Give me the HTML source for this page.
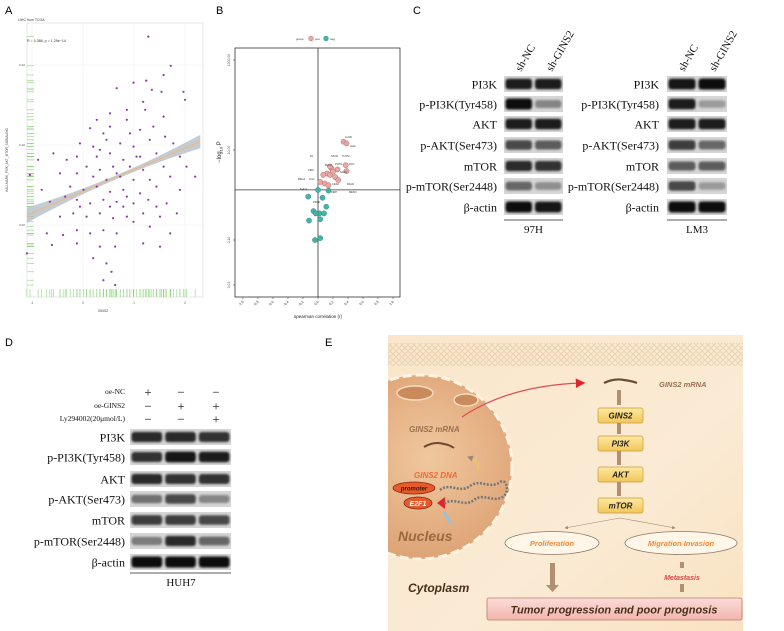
<!DOCTYPE html>
<html><head><meta charset="utf-8">
<style>
html,body{margin:0;padding:0;background:#fff;}
svg{display:block;font-family:"Liberation Sans",sans-serif;}
.serif{font-family:"Liberation Serif",serif;}
</style></head>
<body>
<svg id="fig" width="784" height="631" viewBox="0 0 784 631" xmlns="http://www.w3.org/2000/svg">
<defs>
<filter id="blur" x="-30%" y="-80%" width="160%" height="260%"><feGaussianBlur stdDeviation="1.1"/></filter>
<linearGradient id="bgE" x1="0" y1="0" x2="1" y2="1"><stop offset="0" stop-color="#f9e6cb"/><stop offset="0.6" stop-color="#fbebd4"/><stop offset="1" stop-color="#f8e2c2"/></linearGradient>
<radialGradient id="nuc" cx="0.55" cy="0.45" r="0.6"><stop offset="0" stop-color="#f0c89e"/><stop offset="1" stop-color="#dca072"/></radialGradient>
<linearGradient id="boxG" x1="0" y1="0" x2="0" y2="1"><stop offset="0" stop-color="#fde9a0"/><stop offset="1" stop-color="#f2c55a"/></linearGradient>
<linearGradient id="finG" x1="0" y1="0" x2="0" y2="1"><stop offset="0" stop-color="#fbdcd8"/><stop offset="1" stop-color="#f2b5ae"/></linearGradient>
<pattern id="mem" width="6" height="6" patternUnits="userSpaceOnUse"><circle cx="3" cy="3" r="2.3" fill="none" stroke="#e2c9a4" stroke-width="0.8"/></pattern>
<marker id="arrR" markerWidth="8" markerHeight="8" refX="6" refY="4" orient="auto"><path d="M0,0 L8,4 L0,8 z" fill="#e0252b"/></marker>
<marker id="arrG" markerWidth="6" markerHeight="6" refX="5" refY="3" orient="auto"><path d="M0,0 L6,3 L0,6 z" fill="#9a8878"/></marker>
</defs>

<text x="5" y="14" font-size="11">A</text>
<text x="216" y="14" font-size="11">B</text>
<text x="413" y="14" font-size="11">C</text>
<text x="5" y="346" font-size="11">D</text>
<text x="325" y="346" font-size="11">E</text>

<g id="panelA">
<text x="18" y="21" font-size="3.5" fill="#333">LIHC from TCGA</text>
<rect x="27" y="23" width="176" height="274" fill="#fff" stroke="#d8d8d8" stroke-width="0.6"/>
<text x="27" y="42" font-size="3.6" fill="#333">R = 0.388, p = 1.29e−14</text>
<text x="103" y="312" font-size="3.5" text-anchor="middle" fill="#444">GINS2</text>
<text transform="translate(8,160) rotate(-90)" font-size="3.2" text-anchor="middle" fill="#444">HALLMARK_PI3K_AKT_MTOR_SIGNALING</text>
</g>

<g id="panelB">
<rect x="235" y="48" width="165" height="249" fill="#fff" stroke="#333" stroke-width="0.8"/>
<text x="318" y="318" font-size="4.5" text-anchor="middle" fill="#222">spearman correlation (r)</text>
<text transform="translate(221,152) rotate(-90)" font-size="6" text-anchor="middle" fill="#222">−log<tspan font-size="4" dy="1.5">10</tspan><tspan dy="-1.5"> P</tspan></text>
<text x="296" y="40" font-size="3" fill="#333">group</text>
<circle cx="311" cy="38.5" r="2.4" fill="#e8a9a4" stroke="#a55" stroke-width="0.4"/>
<text x="315" y="40" font-size="3" fill="#333">pos</text>
<circle cx="326" cy="38.5" r="2.4" fill="#44b3a8" stroke="#277" stroke-width="0.4"/>
<text x="330" y="40" font-size="3" fill="#333">neg</text>
</g>

<g id="blots" class="serif"></g>

<g id="panelE">
<rect x="388" y="335" width="355" height="296" fill="url(#bgE)"/>
<rect x="388" y="343" width="355" height="23" fill="url(#mem)"/>
<clipPath id="clipE"><rect x="388" y="335" width="355" height="296"/></clipPath>
<g clip-path="url(#clipE)">
<circle cx="420" cy="467" r="92" fill="url(#nuc)" stroke="#fff3e2" stroke-width="3" stroke-dasharray="9,4"/>
<ellipse cx="415" cy="393" rx="18" ry="7" fill="#c98a5c" stroke="#f6dcc0" stroke-width="1.5"/>
<ellipse cx="466" cy="400" rx="12" ry="6" fill="#c98a5c" stroke="#f6dcc0" stroke-width="1.5"/>
</g>
<text x="409" y="432" font-size="8" font-style="italic" font-weight="bold" fill="#9c7050">GINS2 mRNA</text>
<path d="M424,447 q10,-6 20,-3 q6,1 10,4" fill="none" stroke="#6b4a30" stroke-width="2"/>
<path d="M478,471 q2,-10 -10,-14" fill="none" stroke="#e8d050" stroke-width="1" marker-end="url(#arrG)"/>
<text x="414" y="478" font-size="8" font-style="italic" font-weight="bold" fill="#f06a3a">GINS2 DNA</text>
<ellipse cx="414" cy="488" rx="21" ry="6" fill="#e85a2c" stroke="#7a2a10" stroke-width="0.8"/>
<text x="414" y="490.5" font-size="6" font-style="italic" font-weight="bold" text-anchor="middle" fill="#3a1a0a">promoter</text>
<ellipse cx="418" cy="503" rx="14" ry="6" fill="#e85a2c" stroke="#7a2a10" stroke-width="0.8"/>
<text x="418" y="506" font-size="7" font-style="italic" font-weight="bold" text-anchor="middle" fill="#fff">E2F1</text>
<path d="M445,497 L445,509 L437,503 z" fill="#e0252b"/>
<path d="M440,490 c10,-8 20,4 30,-4 c10,-8 20,4 30,-4 c6,-4 10,8 4,14 c-10,8 -20,-4 -30,4 c-10,8 -20,-4 -30,4" fill="none" stroke="#777" stroke-width="2.5" stroke-dasharray="2,1.5"/>
<line x1="444" y1="512" x2="451" y2="524" stroke="#9cc0d8" stroke-width="3"/>
<text x="398" y="541" font-size="14" font-style="italic" font-weight="bold" fill="#9c6a40">Nucleus</text>
<path d="M462,417 Q510,385 583,383" fill="none" stroke="#e04a55" stroke-width="1.2" marker-end="url(#arrR)"/>
<path d="M604,383 q10,-5 20,-3 q8,1 13,3" fill="none" stroke="#6b4a30" stroke-width="2.2"/>
<text x="659" y="387" font-size="7.5" font-style="italic" font-weight="bold" fill="#9c7050">GINS2 mRNA</text>
<g id="flow"></g>
<line x1="620" y1="518" x2="565" y2="528" stroke="#9a8878" stroke-width="0.6" marker-end="url(#arrG)"/>
<line x1="620" y1="518" x2="675" y2="528" stroke="#9a8878" stroke-width="0.6" marker-end="url(#arrG)"/>
<ellipse cx="552" cy="543" rx="47" ry="11.5" fill="#fff6e8" stroke="#8a7866" stroke-width="0.8"/>
<text x="552" y="546" font-size="7.5" font-style="italic" font-weight="bold" text-anchor="middle" fill="#f08a3a">Proliferation</text>
<ellipse cx="681" cy="543" rx="56" ry="11.5" fill="#fff6e8" stroke="#8a7866" stroke-width="0.8"/>
<text x="681" y="546" font-size="7.5" font-style="italic" font-weight="bold" text-anchor="middle" fill="#f08a3a">Migration Invasion</text>
<rect x="550" y="563" width="5" height="22" fill="#b09070"/>
<path d="M546,585 L559,585 L552.5,592 z" fill="#b09070"/>
<rect x="680" y="562" width="4" height="6" fill="#b09070"/>
<text x="682" y="580" font-size="7" font-style="italic" font-weight="bold" text-anchor="middle" fill="#e0454a">Metastasis</text>
<rect x="680" y="584" width="4" height="8" fill="#b09070"/>
<text x="408" y="592" font-size="12" font-style="italic" font-weight="bold" fill="#4a2e18">Cytoplasm</text>
<rect x="487" y="598" width="255" height="22" rx="2" fill="url(#finG)" stroke="#c07a70" stroke-width="0.8"/>
<text x="614" y="613.5" font-size="11" font-style="italic" font-weight="bold" text-anchor="middle" fill="#4a2e18">Tumor progression and poor prognosis</text>
</g>
</svg>
<script>
const NS='http://www.w3.org/2000/svg';
function mk(tag,attrs,parent){const e=document.createElementNS(NS,tag);for(const k in attrs)e.setAttribute(k,attrs[k]);parent.appendChild(e);return e;}

/* ---------- Panel A data ---------- */
const gins2=[1.28,1.72,1.24,0.99,1.58,0.66,1.35,1.54,1.97,1.18,0.27,0.53,0.86,1.22,1.58,2.00,0.14,0.40,0.86,1.12,1.38,1.61,-0.06,0.20,0.46,0.73,0.99,1.31,1.77,-0.58,-0.12,0.27,0.53,0.79,1.12,1.44,1.90,-0.88,-0.32,0.07,0.33,0.59,0.92,1.18,1.58,2.03,-1.04,-0.45,-0.12,0.20,0.46,0.73,0.99,1.31,1.71,2.20,-0.81,-0.25,0.01,0.27,0.53,0.79,1.12,1.44,1.90,-0.65,-0.35,-0.12,0.14,0.40,0.66,0.99,1.28,1.64,-0.45,-0.19,0.07,0.33,0.59,0.86,1.18,1.51,1.84,-0.71,-0.39,-0.12,0.14,0.40,0.66,0.99,1.31,1.71,-0.61,-0.12,0.33,0.63,1.18,1.51,-1.10,0.20,0.46,0.56,0.40,0.63,0.53,0.79,1.44,-0.06,0.86,0.66,1.05,0.92,0.53,0.33];
const pathway=[0.471,0.398,0.361,0.356,0.375,0.342,0.338,0.333,0.333,0.308,0.263,0.279,0.288,0.288,0.271,0.313,0.242,0.229,0.263,0.238,0.246,0.221,0.204,0.196,0.213,0.204,0.196,0.213,0.204,0.179,0.171,0.171,0.179,0.163,0.171,0.179,0.171,0.163,0.163,0.146,0.138,0.146,0.146,0.138,0.146,0.146,0.125,0.129,0.129,0.121,0.113,0.121,0.113,0.113,0.121,0.121,0.088,0.096,0.088,0.096,0.083,0.088,0.079,0.096,0.088,0.058,0.071,0.063,0.054,0.063,0.058,0.054,0.063,0.054,0.021,0.029,0.021,0.029,0.017,0.021,0.029,0.021,0.029,-0.021,-0.025,-0.013,-0.021,-0.013,-0.021,0.008,-0.004,-0.021,-0.050,-0.046,-0.054,-0.054,-0.046,-0.054,-0.071,-0.083,-0.096,-0.117,-0.138,-0.150,0.046,0.046,0.046,0.046,0.071,0.129,0.171,0.229,0.246,0.188];
const aXTicks=[-1,0,1,2];
const aYTicks=[0.0,0.2,0.4];
const aYTickLabels=['0.00','0.20','0.40'];
const ax=g=>83+51*g, ay=v=>225-400*v;

const A=document.getElementById('panelA');
aXTicks.forEach(t=>{const l=mk('line',{x1:ax(t),x2:ax(t),y1:23,y2:297,stroke:'#eee','stroke-width':0.5},A);

const tx=mk('text',{x:ax(t),y:304,'font-size':3.2,'text-anchor':'middle',fill:'#555'},A);tx.textContent=t;
});
aYTicks.forEach((t,i)=>{const l=mk('line',{x1:27,x2:203,y1:ay(t),y2:ay(t),stroke:'#eee','stroke-width':0.5},A);

const tx=mk('text',{x:25,y:ay(t)+1,'font-size':3,'text-anchor':'end',fill:'#555'},A);tx.textContent=aYTickLabels[i];
});
gins2.forEach(g=>{const r=mk('line',{x1:ax(g),x2:ax(g),y1:289,y2:297,stroke:'#8fd47c','stroke-width':0.6},A);
});
pathway.forEach(v=>{const r=mk('line',{x1:27,x2:34,y1:ay(v),y2:ay(v),stroke:'#8fd47c','stroke-width':0.6},A);
});
const n=gins2.length;const mg=gins2.reduce((a,b)=>a+b)/n, mv=pathway.reduce((a,b)=>a+b)/n;
let sxy=0,sxx=0;for(let i=0;i<n;i++){sxy+=(gins2[i]-mg)*(pathway[i]-mv);sxx+=(gins2[i]-mg)**2;}
const slope=sxy/sxx, icpt=mv-slope*mg;
const g0=-1.1,g1=2.3,hw=g=>0.005+0.0045*(g-mg)**2;
let up='',dn='';for(let k=0;k<=20;k++){const g=g0+(g1-g0)*k/20,f=icpt+slope*g;up+=(k?'L':'M')+ax(g)+','+ay(f+hw(g));dn='L'+ax(g)+','+ay(f-hw(g))+dn;}
const band=mk('path',{d:up+dn+'z',fill:'#b9c3cc',opacity:0.85},A);

const rl=mk('line',{x1:ax(g0),y1:ay(icpt+slope*g0),x2:ax(g1),y2:ay(icpt+slope*g1),stroke:'#f2b677','stroke-width':1},A);

for(let i=0;i<n;i++){const c=mk('circle',{cx:ax(gins2[i]),cy:ay(pathway[i]),r:1.1,fill:'#8a3d9e'},A);
}

/* ---------- Panel B data ---------- */
const posR=[0.34,0.38,0.37,0.38,0.26,0.18,0.12,0.16,0.23,0.07,0.27,0.09,0.14,0.03,0.20,0.16];
const posP=[15.3,14.0,4.6,3.4,3.7,3.9,3.0,2.8,2.5,2.8,2.15,1.8,1.64,1.95,3.3,4.3];
const negR=[0.0,0.14,-0.13,0.06,0.11,-0.06,0.02,0.08,-0.03,0.03,-0.12,-0.04,0.03];
const negP=[1.29,1.25,0.92,0.87,0.55,0.44,0.39,0.39,0.39,0.29,0.27,0.10,0.11];
const bLabels=['LUAD','LIHC','THYM','ACC','STAD','PCPG','BLCA','KIRC','BRCA','LGG','SARC','PAAD','CESC','MESO','THCA','KIRP','PRAD','DL'];
const bXTicks=[-1.0,-0.8,-0.6,-0.4,-0.2,0.0,0.2,0.4,0.6,0.8,1.0];
const bYTicks=[1000,10,0.1,0.01];
const bYTickLabels=['1000.00','10.00','0.10','0.01'];
const bx=r=>318+75*r, by=p=>150-45*(Math.log10(p)-1);
const B=document.getElementById('panelB');
bXTicks.forEach(t=>{const tk=mk('line',{x1:bx(t),x2:bx(t),y1:297,y2:299,stroke:'#333','stroke-width':0.5},B);

const tx=mk('text',{transform:`translate(${bx(t)+1},${302}) rotate(-45)`,'font-size':3.4,'text-anchor':'end',fill:'#333'},B);tx.textContent=t.toFixed(1);
});
bYTicks.forEach((t,i)=>{const tk=mk('line',{x1:233,x2:235,y1:by(t),y2:by(t),stroke:'#333','stroke-width':0.5},B);

const tx=mk('text',{transform:`translate(${230},${by(t)}) rotate(-90)`,'font-size':3.4,'text-anchor':'middle',fill:'#333'},B);tx.textContent=bYTickLabels[i];
});
const vl=mk('line',{x1:bx(0),x2:bx(0),y1:48,y2:297,stroke:'#333','stroke-width':0.8},B);

const hl=mk('line',{x1:235,x2:400,y1:by(1.3),y2:by(1.3),stroke:'#333','stroke-width':0.8},B);

for(let i=0;i<negR.length;i++){const c=mk('circle',{cx:bx(negR[i]),cy:by(negP[i]),r:2.6,fill:'#44b3a8',stroke:'#2a7770','stroke-width':0.4},B);
}
for(let i=0;i<posR.length;i++){const c=mk('circle',{cx:bx(posR[i]),cy:by(posP[i]),r:2.6,fill:'#e8a9a4',stroke:'#a05050','stroke-width':0.4},B);
}
const labPos=[[345,138],[350,147],[342,157],[349,165],[331,157],[335,165],[325,166],[308,171],[298,180],[309,180],[340,173],[347,185],[332,185],[349,193],[300,190],[331,193],[313,203],[310,157]];
bLabels.forEach((s,i)=>{const t=mk('text',{x:labPos[i][0],y:labPos[i][1],'font-size':2.6,fill:'#333'},B);t.textContent=s;
});

/* ---------- Blots ---------- */
const G=document.getElementById('blots');
const proteins=['PI3K','p-PI3K(Tyr458)','AKT','p-AKT(Ser473)','mTOR','p-mTOR(Ser2448)','β-actin'];
const c97H=[[0.9,0.9],[1,0.4],[0.9,0.9],[0.7,0.6],[0.85,0.8],[0.55,0.35],[1,0.95]];
const cLM3=[[0.95,1],[0.9,0.3],[0.9,0.9],[0.75,0.55],[0.6,0.6],[0.7,0.3],[1,1]];
const dHUH7=[[0.85,0.85,0.8],[0.8,0.95,0.9],[0.85,0.8,0.8],[0.5,0.7,0.4],[0.75,0.75,0.7],[0.45,0.85,0.55],[1,1,1]];
function blot(labelX,x0,x1,rowsY,vals,fs,cell){
  const lw=(x1-x0)/vals[0].length;
  rowsY.forEach((y,r)=>{
    const t=mk('text',{x:labelX,y:y+4.5,'font-size':fs,'text-anchor':'end',fill:'#111'},G);t.textContent=proteins[r];
    
    const bg=mk('rect',{x:x0,y:y-8,width:x1-x0,height:16,fill:'#d6d6d6'},G);
    
    vals[r].forEach((v,i)=>{const g=Math.round(215-205*v);
      const b=mk('rect',{x:x0+lw*i+1.5,y:y-3-2.5*v,width:lw-3,height:6+5*v,rx:3,fill:`rgb(${g},${g},${g})`,filter:'url(#blur)'},G);
      });
  });
}
const cRows=[84,104,124,145,166,186,207];
blot(497,504,563,cRows,c97H,12,'97h');
blot(659,667,727,cRows,cLM3,12,'lm3');
[[504,563,'97H'],[667,727,'LM3']].forEach(([a,b,s])=>{
  const l=mk('line',{x1:a,x2:b,y1:220,y2:220,stroke:'#222','stroke-width':0.8},G);
  
  const t=mk('text',{x:(a+b)/2,y:233,'font-size':11,'text-anchor':'middle',fill:'#111'},G);t.textContent=s;
  
  [['sh-NC',a+17],['sh-GINS2',a+48]].forEach(([h,x])=>{
    const th=mk('text',{transform:`translate(${x},${72}) rotate(-60)`,'font-size':11,fill:'#111'},G);th.textContent=h;
    });
});
const dRows=[437,457,479,499,520,541,562];
blot(125,130,231,dRows,dHUH7,12,'huh7');
const dl=mk('line',{x1:130,x2:231,y1:573,y2:573,stroke:'#222','stroke-width':0.8},G);

const dt=mk('text',{x:181,y:586,'font-size':11,'text-anchor':'middle',fill:'#111'},G);dt.textContent='HUH7';

const treatments=['oe-NC','oe-GINS2','Ly294002(20μmol/L)'];
const signs=[['+','−','−'],['−','+','+'],['−','−','+']];
const tY=[393,407,420];const colX=[148,181,216];
treatments.forEach((s,r)=>{const t=mk('text',{x:125,y:tY[r]+1,'font-size':7.5,'text-anchor':'end',fill:'#111'},G);t.textContent=s;
  
  signs[r].forEach((sg,i)=>{const q=mk('text',{x:colX[i],y:tY[r]+3.5,'font-size':13,'text-anchor':'middle',fill:'#111'},G);q.textContent=sg;
    });});

/* ---------- Flow boxes ---------- */
const F=document.getElementById('flow');
const steps=['GINS2','PI3K','AKT','mTOR'];const stepY=[408,436,467,498];
steps.forEach((s,i)=>{
  const a=mk('rect',{x:617,y:(i?stepY[i-1]+15:390),width:4,height:(i?stepY[i]-stepY[i-1]-17:15),fill:'#b09070'},F);
  
  const r=mk('rect',{x:598,y:stepY[i],width:45,height:15,rx:2,fill:'url(#boxG)',stroke:'#c89a40','stroke-width':0.7},F);
  
  const t=mk('text',{x:620.5,y:stepY[i]+10.5,'font-size':8,'font-style':'italic','font-weight':'bold','text-anchor':'middle',fill:'#222'},F);t.textContent=s;
  
});
</script>
</body></html>
